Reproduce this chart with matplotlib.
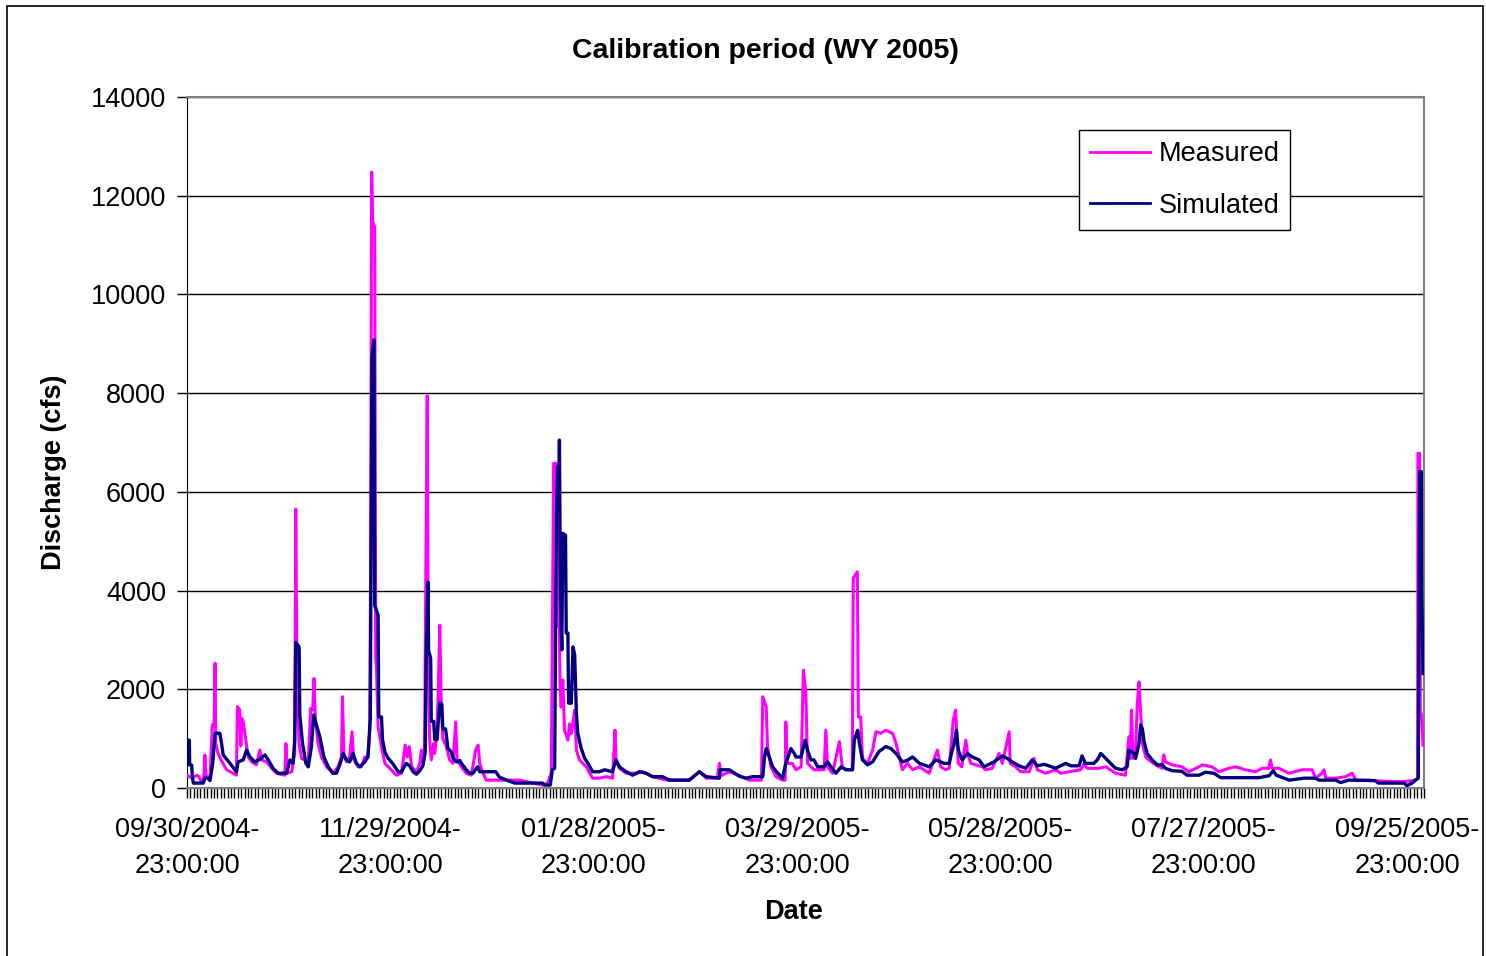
#!/usr/bin/env python3

# Hydrograph of measured and simulated discharge for the WY 2005 calibration period.
# Values are hourly-series breakpoints, given as days after 09/30/2004 23:00.

import numpy as np
import pandas as pd
import matplotlib
matplotlib.use("Agg")
import matplotlib.pyplot as plt
from matplotlib.patches import Rectangle

plt.rcParams['font.family'] = ['Liberation Sans', 'DejaVu Sans']

start = pd.Timestamp("2004-09-30 23:00:00")

# Measured discharge (cfs)
meas_day = [0.0, 1.5, 2.9, 3.5, 4.3, 5.0, 5.3, 5.6, 6.8, 7.5, 8.0, 8.3, 8.5, 9.2, 10.2, 11.7,
            13.6, 14.6, 14.9, 15.6, 15.9, 16.2, 16.6, 17.1, 17.6, 18.1, 19.1, 20.5, 21.5, 22.0,
            23.5, 25.0, 26.4, 28.9, 29.2, 29.6, 30.9, 31.8, 32.1, 32.5, 33.1, 33.8, 35.8, 36.5,
            37.1, 37.5, 37.9, 38.7, 39.7, 41.2, 43.1, 44.6, 45.6, 45.9, 46.3, 47.1, 48.0, 48.7,
            49.2, 50.5, 51.5, 52.5, 53.4, 53.9, 54.2, 54.5, 54.8, 55.4, 55.7, 55.9, 56.4, 57.4,
            58.4, 59.8, 61.8, 63.3, 64.4, 65.0, 65.6, 66.3, 67.7, 68.7, 69.2, 69.7, 70.1, 70.6,
            70.9, 71.2, 71.6, 72.1, 72.8, 73.1, 73.6, 74.1, 74.6, 75.0, 75.5, 76.5, 77.5, 78.5,
            79.3, 79.7, 81.0, 82.4, 83.9, 85.2, 85.9, 86.4, 87.2, 88.3, 98.1, 104.9, 106.4,
            107.5, 108.2, 109.0, 109.3, 109.4, 110.1, 110.4, 110.9, 111.4, 112.4, 112.9, 113.4,
            114.4, 114.9, 115.8, 117.8, 119.7, 121.7, 123.7, 125.6, 126.3, 126.6, 127.6, 129.6,
            132.5, 134.4, 137.3, 141.5, 148.2, 151.2, 153.2, 156.5, 157.1, 157.6, 160.0, 163.0,
            165.9, 169.5, 169.9, 170.9, 171.3, 172.3, 173.8, 175.7, 176.5, 176.7, 177.1, 178.6,
            179.7, 181.2, 181.9, 182.6, 183.1, 185.0, 188.0, 188.5, 189.0, 190.5, 192.5, 193.4,
            195.4, 196.3, 196.6, 197.8, 198.1, 198.8, 199.3, 200.8, 202.3, 203.3, 204.7, 206.2,
            208.2, 209.2, 210.1, 211.1, 212.6, 214.1, 216.1, 219.0, 221.4, 222.4, 223.9, 224.9,
            226.1, 226.8, 227.6, 228.6, 229.8, 230.3, 231.3, 232.7, 234.7, 235.7, 237.6, 239.6,
            240.6, 242.6, 242.9, 244.5, 246.0, 248.5, 249.9, 250.9, 253.4, 256.3, 257.8, 260.3,
            263.7, 264.7, 265.6, 269.1, 271.1, 274.0, 276.9, 277.9, 278.3, 278.7, 279.1, 279.9,
            280.4, 280.9, 281.4, 281.9, 282.9, 283.8, 285.8, 287.7, 288.2, 288.7, 290.7, 293.6,
            295.6, 298.6, 299.6, 302.4, 304.5, 307.4, 309.4, 312.3, 315.3, 317.2, 319.2, 319.7,
            320.2, 322.2, 325.2, 329.0, 332.0, 333.0, 334.9, 335.5, 336.0, 338.9, 341.9, 343.8,
            344.9, 348.7, 352.6, 357.5, 360.4, 362.4, 363.1, 363.2, 363.7, 363.9, 364.2, 364.7]
meas_cfs = [260, 200, 260, 230, 130, 200, 670, 260, 200, 1280, 1250, 2530, 900, 700, 550, 370,
            300, 260, 1650, 1580, 850, 1410, 1350, 1110, 850, 630, 530, 470, 770, 570,
            530, 400, 300, 260, 900, 300, 330, 700, 5650, 1880, 900, 600, 530, 1610,
            1580, 2220, 1380, 900, 630, 430, 300, 430, 630, 1850, 650, 530, 630, 1140,
            580, 430, 430, 630, 630, 1110, 4600, 12480, 11480, 11370, 2630, 2460, 1240, 840,
            500, 400, 260, 300, 870, 630, 840, 430, 330, 500, 770, 500, 670, 5450,
            7950, 2390, 1000, 570, 900, 700, 1000, 1800, 3300, 1780, 1000, 850, 570, 500,
            1340, 570, 430, 300, 260, 770, 870, 500, 330, 160, 160, 60, 100,
            300, 6580, 6580, 3270, 5770, 2050, 1640, 2190, 1170, 970, 1300, 1100,
            1580, 770, 570, 430, 200, 200, 230, 200, 1170, 570, 400, 300,
            300, 330, 230, 160, 160, 330, 200, 200, 500, 250, 330, 250,
            160, 160, 1850, 1650, 840, 430, 230, 160, 160, 1340, 500, 500,
            370, 430, 2390, 1950, 500, 370, 370, 1170, 430, 300, 940, 400,
            370, 370, 4250, 4380, 1440, 1440, 600, 500, 770, 1140, 1110, 1170,
            1110, 910, 650, 370, 500, 370, 430, 300, 770, 430, 370, 400,
            1380, 1580, 500, 430, 970, 700, 500, 470, 430, 370, 400, 700,
            500, 1140, 500, 430, 330, 330, 600, 370, 300, 370, 300, 330,
            370, 500, 400, 400, 430, 300, 260, 1040, 600, 1580, 600, 770,
            1710, 2150, 1510, 900, 630, 570, 470, 400, 670, 530, 470, 430,
            330, 430, 470, 430, 330, 400, 430, 370, 330, 400, 400, 570,
            400, 400, 300, 370, 370, 200, 300, 370, 200, 200, 230, 300,
            160, 160, 140, 130, 140, 160, 200, 6780, 6780, 1510, 1510, 870]

# Simulated discharge (cfs)
sim_day = [0.0, 0.7, 0.8, 1.4, 1.6, 1.9, 4.8, 5.3, 6.2, 6.8, 7.6, 8.3, 9.7, 10.2, 10.7, 12.7,
           14.6, 15.1, 16.6, 17.6, 18.6, 20.0, 21.5, 23.0, 24.0, 25.4, 26.9, 29.4, 30.4, 31.3,
           31.8, 32.1, 33.1, 33.3, 34.1, 35.1, 35.8, 36.7, 37.4, 38.2, 39.2, 40.4, 41.7, 43.1,
           44.1, 45.1, 46.1, 47.1, 48.0, 49.0, 50.0, 51.0, 52.5, 53.4, 54.1, 54.6, 55.2, 55.4,
           56.4, 56.6, 57.4, 57.7, 58.4, 59.3, 60.8, 62.3, 63.3, 64.7, 65.7, 66.7, 67.7, 68.7,
           69.6, 70.3, 70.6, 71.1, 71.3, 71.9, 72.1, 72.8, 73.1, 73.8, 74.1, 74.6, 75.2, 75.5,
           76.3, 77.0, 78.0, 78.5, 79.5, 80.5, 81.0, 82.4, 83.4, 84.4, 85.4, 85.8, 86.4, 87.2,
           91.1, 92.2, 94.3, 96.7, 104.9, 105.5, 107.2, 107.8, 108.5, 109.0, 109.4, 109.7,
           109.9, 110.2, 110.6, 110.9, 111.7, 111.9, 112.4, 112.6, 113.4, 113.9, 114.4, 114.9,
           115.3, 116.3, 117.3, 118.3, 119.7, 121.7, 123.2, 125.5, 126.6, 127.6, 129.6, 131.5,
           133.5, 135.5, 137.4, 140.3, 142.4, 148.2, 151.2, 153.2, 157.1, 157.3, 160.0, 163.0,
           165.0, 166.9, 169.9, 170.4, 170.9, 171.8, 172.8, 174.3, 175.7, 176.7, 177.2, 178.2,
           179.2, 179.7, 181.2, 182.4, 183.1, 184.1, 185.0, 186.1, 188.0, 189.0, 190.0, 191.5,
           193.0, 194.4, 196.4, 196.9, 197.9, 198.4, 199.3, 200.8, 202.3, 204.2, 206.2, 207.7,
           209.2, 211.1, 212.5, 214.1, 216.1, 219.0, 221.0, 223.4, 224.9, 225.8, 226.3, 227.0,
           227.6, 228.7, 230.3, 231.7, 233.7, 235.2, 238.1, 240.6, 242.0, 243.5, 245.5, 247.5,
           249.4, 250.9, 252.9, 254.3, 256.3, 259.3, 260.8, 263.2, 264.1, 265.1, 267.6, 268.6,
           269.6, 271.1, 272.5, 274.0, 276.0, 277.4, 277.9, 279.4, 279.9, 280.9, 281.4, 281.9,
           282.4, 283.3, 284.8, 286.3, 287.7, 288.7, 290.7, 293.5, 295.1, 298.6, 300.5, 303.0,
           305.0, 311.4, 316.3, 319.3, 320.5, 321.4, 325.2, 329.6, 332.9, 334.0, 338.9, 340.4,
           342.8, 350.5, 351.6, 359.0, 360.0, 361.5, 362.5, 363.3, 363.7, 364.2, 364.3, 364.7]
sim_cfs = [970, 970, 465, 465, 220, 100, 100, 200, 200, 150, 500, 1110, 1110, 910, 670, 500,
           330, 530, 570, 770, 630, 530, 580, 670, 570, 400, 300, 300, 570, 500,
           970, 2950, 2860, 1480, 910, 500, 430, 830, 1480, 1280, 1040, 630, 430, 300,
           300, 470, 700, 570, 530, 700, 500, 430, 530, 630, 1400, 8750, 9080, 3700,
           3500, 1440, 1440, 980, 730, 610, 490, 330, 330, 500, 450, 330, 280, 350,
           450, 730, 2790, 4170, 2790, 2630, 1350, 1350, 980, 980, 1280, 1720, 1700, 1200,
           1200, 810, 730, 610, 530, 560, 500, 370, 300, 300, 400, 430, 330, 330,
           330, 220, 160, 100, 100, 60, 60, 370, 400, 5630, 6500, 5630,
           7050, 3870, 2800, 5160, 5120, 3140, 3140, 1720, 1720, 2860, 2700, 1520,
           1110, 810, 610, 500, 330, 330, 370, 330, 570, 430, 330, 260,
           330, 300, 230, 230, 160, 160, 330, 230, 200, 370, 370, 240,
           200, 230, 230, 630, 800, 630, 430, 300, 200, 500, 600, 800,
           700, 630, 630, 970, 770, 570, 570, 430, 430, 530, 430, 300,
           430, 370, 370, 970, 1170, 910, 570, 470, 530, 740, 840, 800,
           700, 530, 560, 630, 500, 430, 570, 500, 500, 770, 870, 1170,
           770, 570, 700, 630, 570, 430, 530, 650, 600, 530, 450, 400,
           570, 450, 480, 450, 400, 500, 450, 450, 650, 500, 500, 570,
           700, 600, 500, 400, 370, 430, 770, 700, 600, 900, 1280, 1200,
           940, 700, 570, 470, 470, 400, 350, 340, 260, 260, 320, 300,
           210, 210, 210, 250, 350, 260, 160, 200, 200, 160, 160, 110,
           160, 150, 100, 100, 50, 100, 160, 200, 6410, 6410, 4010, 2320]

# Axis ticks: a labelled tick every 60 days and a minor tick every day
tick_days = np.arange(0, 361, 60)
tick_labels = [(start + pd.Timedelta(days=int(d))).strftime("%m/%d/%Y-\n%H:%M:%S") for d in tick_days]
y_ticks = np.arange(0, 14001, 2000)

fig = plt.figure(figsize=(14.86, 9.56), dpi=100)
ax = fig.add_axes([0.1258, 0.1757, 0.8325, 0.7228])

ax.plot(meas_day, meas_cfs, color='#FF00FF', lw=2.2, label='Measured', zorder=3)
ax.plot(sim_day, sim_cfs, color='#000080', lw=2.4, label='Simulated', zorder=4)

ax.set_xlim(0, 365)
ax.set_ylim(0, 14000)
ax.set_yticks(y_ticks)
ax.set_yticklabels([str(v) for v in y_ticks], fontsize=19.5)
ax.set_xticks(tick_days)
ax.set_xticklabels(tick_labels, fontsize=19.5, linespacing=1.5)
ax.set_xticks(np.arange(0, 366, 1), minor=True)
ax.tick_params(axis='x', which='both', direction='out', length=7, width=1, color='black', pad=14)
ax.tick_params(axis='y', direction='out', length=7, width=1, color='black', pad=8)

ax.grid(axis='y', color='black', lw=1)
ax.set_axisbelow(True)
for side in ['top', 'right']:
    ax.spines[side].set_color('#808080')
    ax.spines[side].set_linewidth(1.5)
ax.spines['left'].set_color('black')
ax.spines['bottom'].set_color('#808080')
ax.spines['bottom'].set_linewidth(1.5)

# Title and axis labels are centred on the chart area rather than the plot area
fig.text(0.515, 0.947, "Calibration period (WY 2005)", fontsize=20.5, fontweight='bold',
         ha='center', va='center')
ax.set_ylabel("Discharge (cfs)", fontsize=19.5, fontweight='bold')
ax.yaxis.set_label_coords(-0.097, 0.457)
ax.set_xlabel("Date", fontsize=19.5, fontweight='bold')
ax.xaxis.set_label_coords(0.49, -0.161)

leg = ax.legend(loc='upper right', bbox_to_anchor=(0.892, 0.952), borderaxespad=0,
                fontsize=19.5, fancybox=False, framealpha=1, edgecolor='black',
                handlelength=2.25, handletextpad=0.3, labelspacing=0.95, borderpad=0.4)
leg.get_frame().set_linewidth(1.0)
for line in leg.get_lines():
    line.set_linewidth(2.0)

# Chart-area border
fig.patches.append(Rectangle((0.0047, -0.01), 0.9933, 1.0037, transform=fig.transFigure,
                             fill=False, edgecolor='black', lw=1.2))

fig.savefig("out.png", dpi=100)
